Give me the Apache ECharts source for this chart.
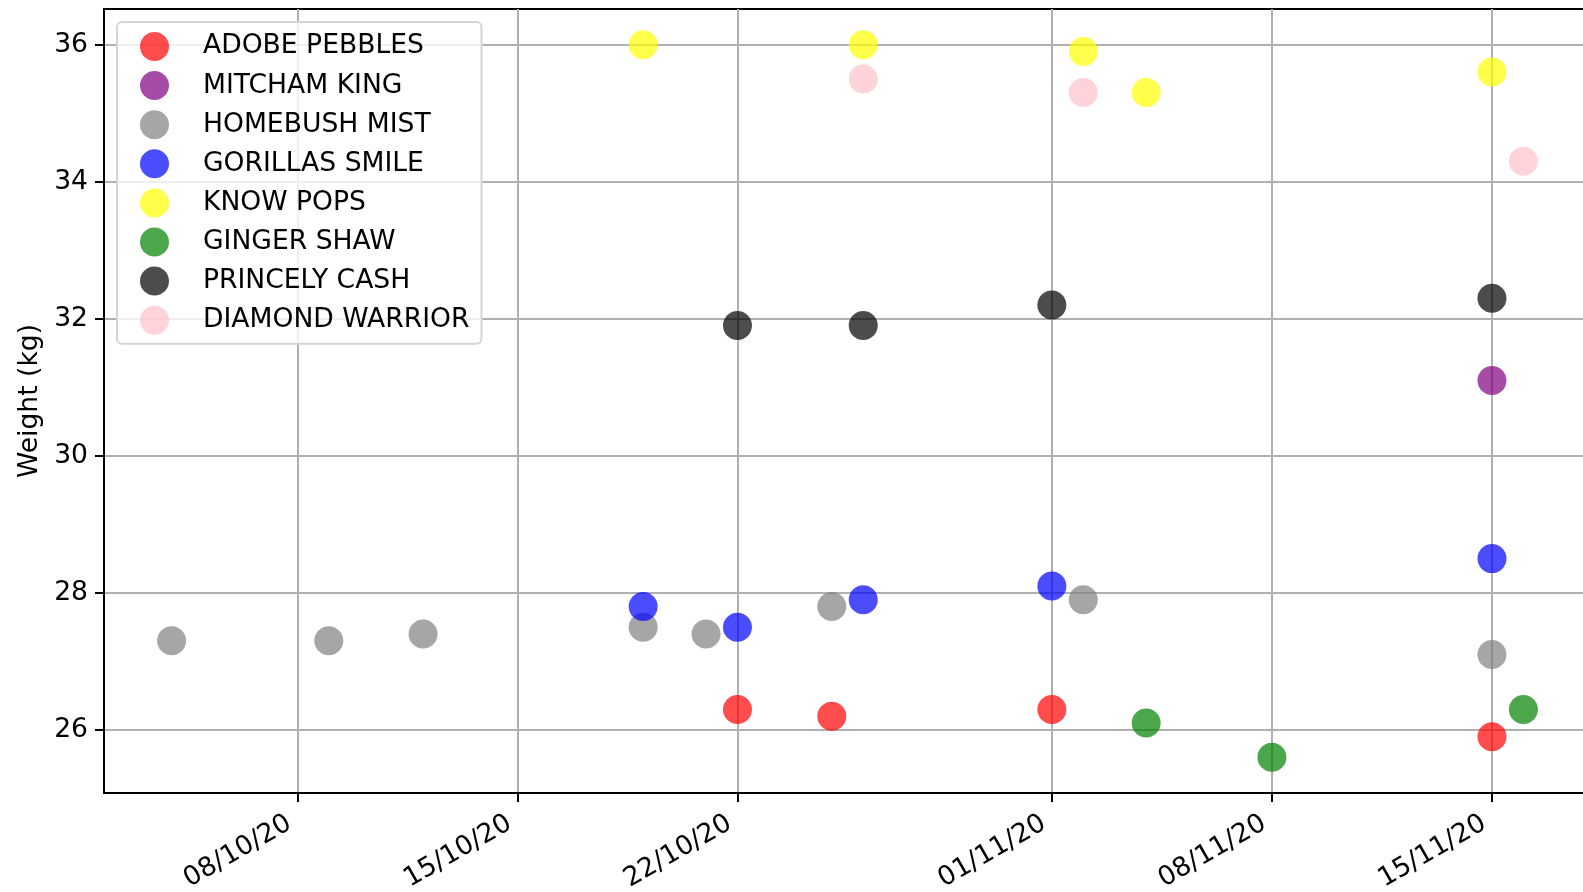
<!DOCTYPE html>
<html>
<head>
<meta charset="utf-8">
<script src="https://cdn.jsdelivr.net/npm/echarts@6/dist/echarts.min.js"></script>
<style>
html,body{margin:0;padding:0;background:#fff;}
#chart{width:1583px;height:892px;}
</style>
</head>
<body>
<div id="chart"></div>
<script>
// ---- data ----
const seriesNames = ['ADOBE PEBBLES','MITCHAM KING','HOMEBUSH MIST','GORILLAS SMILE','KNOW POPS','GINGER SHAW','PRINCELY CASH','DIAMOND WARRIOR'];
const seriesColors = ['#ff0000','#800080','#808080','#0000ff','#ffff00','#008000','#000000','#ffc0cb'];

const adobeDates = ['2020-10-22','2020-10-25','2020-11-01','2020-11-15'];
const adobeKg = [26.3, 26.2, 26.3, 25.9];
const mitchamDates = ['2020-11-15'];
const mitchamKg = [31.1];
const homebushDates = ['2020-10-04','2020-10-09','2020-10-12','2020-10-19','2020-10-21','2020-10-25','2020-11-02','2020-11-15'];
const homebushKg = [27.3, 27.3, 27.4, 27.5, 27.4, 27.8, 27.9, 27.1];
const gorillasDates = ['2020-10-19','2020-10-22','2020-10-26','2020-11-01','2020-11-15'];
const gorillasKg = [27.8, 27.5, 27.9, 28.1, 28.5];
const knowPopsDates = ['2020-10-19','2020-10-26','2020-11-02','2020-11-04','2020-11-15'];
const knowPopsKg = [36.0, 36.0, 35.9, 35.3, 35.6];
const gingerDates = ['2020-11-04','2020-11-08','2020-11-16'];
const gingerKg = [26.1, 25.6, 26.3];
const princelyDates = ['2020-10-22','2020-10-26','2020-11-01','2020-11-15'];
const princelyKg = [31.9, 31.9, 32.2, 32.3];
const diamondDates = ['2020-10-26','2020-11-02','2020-11-16'];
const diamondKg = [35.5, 35.3, 34.3];

const xTickDates = ['2020-10-08','2020-10-15','2020-10-22','2020-11-01','2020-11-08','2020-11-15'];
const yTicks = [26, 28, 30, 32, 34, 36];
const yAxisTitle = 'Weight (kg)';

// ---- helpers ----
function ts(s){ const p = s.split('-').map(Number); return new Date(p[0], p[1]-1, p[2]).getTime(); }
function pad2(n){ return (n < 10 ? '0' : '') + n; }
function fmt(v){ const d = new Date(v); return pad2(d.getDate()) + '/' + pad2(d.getMonth()+1) + '/' + pad2(d.getFullYear() % 100); }

const allDates = [adobeDates, mitchamDates, homebushDates, gorillasDates, knowPopsDates, gingerDates, princelyDates, diamondDates];
const allKg = [adobeKg, mitchamKg, homebushKg, gorillasKg, knowPopsKg, gingerKg, princelyKg, diamondKg];

// matplotlib-like 5% margins
const flatT = [].concat(...allDates).map(ts);
const flatY = [].concat(...allKg);
const tMin = Math.min(...flatT), tMax = Math.max(...flatT);
const yMin = Math.min(...flatY), yMax = Math.max(...flatY);
const tPad = (tMax - tMin) * 0.05, yPad = (yMax - yMin) * 0.05;

const FONT = 'DejaVu Sans';
const FS = 26.6;

const series = seriesNames.map((name, i) => ({
  name: name,
  type: 'scatter',
  symbol: 'circle',
  symbolSize: 29,
  itemStyle: { color: seriesColors[i], opacity: 0.7 },
  emphasis: { disabled: true },
  data: allDates[i].map((d, j) => [ts(d), allKg[i][j]])
}));

const chart = echarts.init(document.getElementById('chart'), null, { renderer: 'canvas' });
chart.setOption({
  animation: false,
  backgroundColor: '#ffffff',
  grid: {
    left: 104, top: 9, right: -8, bottom: 99,
    outerBoundsMode: 'none',
    containLabel: false,
    show: true, borderColor: '#000000', borderWidth: 2, backgroundColor: 'transparent'
  },
  legend: {
    data: seriesNames,
    orient: 'vertical',
    left: 117, top: 22,
    padding: [10, 12, 9, 23],
    itemGap: 10.1,
    itemWidth: 29, itemHeight: 29,
    icon: 'circle',
    backgroundColor: 'rgba(255,255,255,0.8)',
    borderColor: '#d5d5d5', borderWidth: 2, borderRadius: 5,
    selectedMode: false,
    textStyle: { fontFamily: FONT, fontSize: FS, color: '#000', lineHeight: 29, padding: [0, 0, 0, 29] }
  },
  xAxis: {
    type: 'value',
    min: tMin - tPad,
    max: tMax + tPad,
    axisLine: { show: true, onZero: false, lineStyle: { color: '#000', width: 2 } },
    axisTick: { show: true, length: 9, lineStyle: { color: '#000', width: 2 }, customValues: xTickDates.map(ts) },
    axisLabel: {
      customValues: xTickDates.map(ts),
      formatter: fmt,
      rotate: 30, margin: 24, padding: [0, 9, 0, 0],
      fontFamily: FONT, fontSize: FS, color: '#000',
      hideOverlap: false
    },
    splitLine: { show: true, lineStyle: { color: '#b0b0b0', width: 2 } }
  },
  yAxis: {
    type: 'value',
    min: yMin - yPad,
    max: yMax + yPad,
    name: yAxisTitle,
    nameLocation: 'middle',
    nameGap: 58,
    nameTextStyle: { fontFamily: FONT, fontSize: FS, color: '#000' },
    axisLine: { show: true, onZero: false, lineStyle: { color: '#000', width: 2 } },
    axisTick: { show: true, length: 9, lineStyle: { color: '#000', width: 2 }, customValues: yTicks },
    axisLabel: {
      customValues: yTicks,
      margin: 16,
      fontFamily: FONT, fontSize: FS, color: '#000',
      formatter: v => String(Math.round(v))
    },
    splitLine: { show: true, lineStyle: { color: '#b0b0b0', width: 2 } }
  },
  series: series
});
</script>
</body>
</html>
